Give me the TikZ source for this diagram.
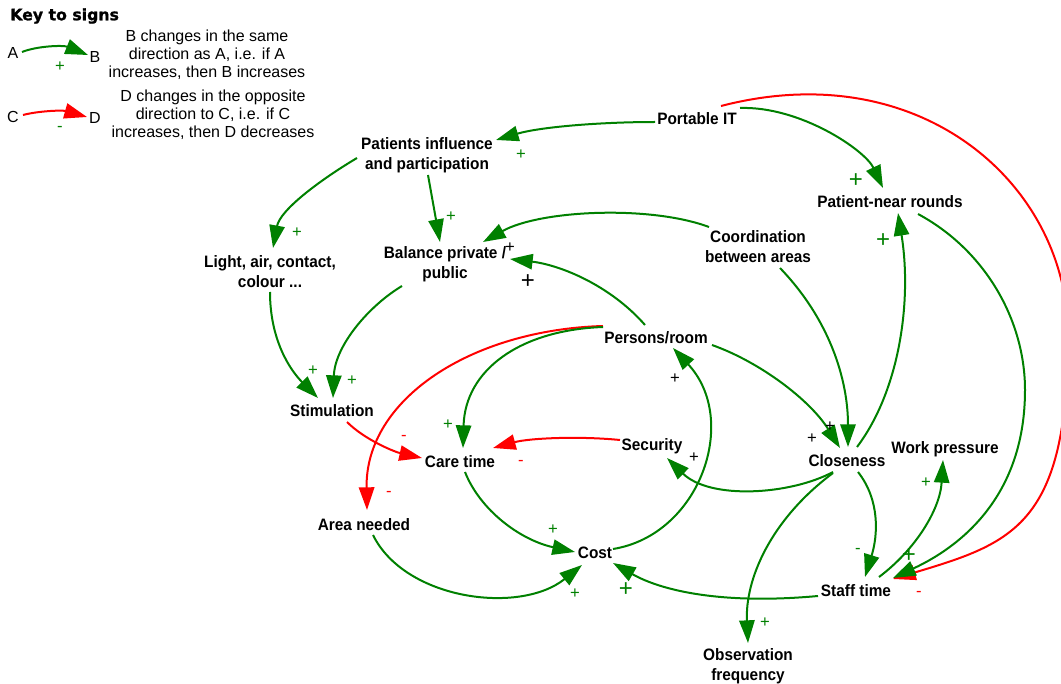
\documentclass[tikz,border=0pt]{standalone}
\usepackage{fontspec}
\setmainfont{Liberation Sans}
\newfontfamily\varfont[FakeStretch=0.93]{Liberation Sans}
\newfontfamily\keyfont[BoldFeatures={FakeBold=1.2}]{DejaVu Sans}
\usetikzlibrary{arrows.meta,calc}

\definecolor{posgreen}{RGB}{0,128,0}
\definecolor{negred}{RGB}{255,0,0}

\tikzset{
  var/.style={font=\varfont\bfseries\fontsize{12.4}{15}\selectfont, align=center, inner sep=0pt},
  keytxt/.style={font=\fontsize{12}{13.5}\selectfont, align=center, inner sep=0pt},
  link/.style={line width=1.5pt, -{Triangle[length=17pt,width=11.5pt]}},
  pluslink/.style={link, posgreen},
  minuslink/.style={link, negred},
  sgn/.style={inner sep=0pt, font=\fontsize{12.5}{12.5}\selectfont},
  bigsgn/.style={inner sep=0pt, font=\fontsize{18}{18}\selectfont},
}

\begin{document}
\begin{tikzpicture}[x=0.75pt, y=-0.75pt]
\useasboundingbox (0,0) rectangle (1061,684);
\clip (0,0) rectangle (1061,684);

% ---------- key ----------
\node[font=\keyfont\bfseries\fontsize{11.8}{12}\selectfont, anchor=west, inner sep=0pt] (keytitle) at (10,16) {Key to signs};
\node[keytxt] (ka) at (13,53) {A};
\node[keytxt] (kb) at (95,57) {B};
\node[keytxt] (kc) at (13,117) {C};
\node[keytxt] (kd) at (95,118) {D};
\node[keytxt] (kpos) at (207,55) {B changes in the same\\direction as A, i.e. if A\\increases, then B increases};
\node[keytxt] (kneg) at (213,115) {D changes in the opposite\\direction to C, i.e. if C\\increases, then D decreases};
\draw[pluslink] ($(ka)+(9,-1)$) .. controls +(15,-6) and +(-25,-10) .. ($(kb)+(-7,-2)$);
\draw[minuslink] ($(kc)+(10,-2)$) .. controls +(15,-4) and +(-25,-7) .. ($(kd)+(-8,-1)$);
\node[sgn, posgreen] (kps) at (60,67) {+};
\node[sgn, posgreen] (kms) at (60,129) {-};

% ---------- variables ----------
\node[var] (pit) at (697,119) {Portable IT};
\node[var] (pat) at (427,155) {Patients influence\\and participation};
\node[var] (rounds) at (890,202) {Patient-near rounds};
\node[var] (coord) at (758,247) {Coordination\\between areas};
\node[var] (bal) at (445,264) {Balance private /\\public};
\node[var] (light) at (270,272) {Light, air, contact,\\colour ...};
\node[var] (pers) at (656,338) {Persons/room};
\node[var] (stim) at (332,411) {Stimulation};
\node[var] (care) at (460,462) {Care time};
\node[var] (sec) at (652,446) {Security};
\node[var] (close) at (847,461) {Closeness};
\node[var] (work) at (945,449) {Work pressure};
\node[var] (area) at (364,525) {Area needed};
\node[var] (cost) at (595,553) {Cost};
\node[var] (staff) at (856,591) {Staff time};
\node[var] (obs) at (748,666) {Observation\\frequency};

% ---------- causal links ----------
% negative: portable IT reduces staff time (drawn first, under the green head)
\draw[minuslink] ($(pit)+(24,-13)$) .. controls +(200,-52) and +(0,-150) .. (1068,335)
  .. controls +(0,190) and +(120,-36) .. ($(staff)+(37,-12)$);

\draw[pluslink] ($(pit)+(-42,3)$) .. controls +(-55,0) and +(44,-13) .. ($(pat)+(69,-15)$);
\draw[pluslink] ($(pit)+(43,-11)$) .. controls +(60,-2) and +(-18,-38) .. ($(rounds)+(-7,-14)$);
\draw[pluslink] ($(pat)+(-70,3)$) .. controls +(-37,22) and +(7,-38) .. ($(light)+(3,-24)$);
\draw[pluslink] ($(pat)+(1,20)$) -- ($(bal)+(-5,-22)$);
\draw[pluslink] ($(coord)+(-49,-20)$) .. controls +(-59,-22) and +(57,-32) .. ($(bal)+(38,-22)$);
\draw[pluslink] ($(pers)+(-11,-13)$) .. controls +(-35,-40) and +(50,6) .. ($(bal)+(65,-5)$);
\draw[pluslink] ($(bal)+(-43,22)$) .. controls +(-32,19) and +(2,-53) .. ($(stim)+(1,-13)$);
\draw[pluslink] ($(light)+(0,20)$) .. controls +(0,48) and +(-28,-28) .. ($(stim)+(-14,-13)$);
\draw[minuslink] ($(stim)+(15,11)$) .. controls +(18,18) and +(-27,-6) .. ($(care)+(-38,-4)$);
\draw[minuslink] ($(pers)+(-53,-12)$) .. controls +(-133,4) and +(-2,-110) .. ($(area)+(3,-15)$);
\draw[pluslink] ($(pers)+(-53,-11)$) .. controls +(-83,3) and +(2,-78) .. ($(care)+(3,-14)$);
\draw[minuslink] ($(sec)+(-32,-6)$) .. controls +(-40,-4) and +(37,-10) .. ($(care)+(33,-14)$);
\draw[pluslink] ($(care)+(5,10)$) .. controls +(15,38) and +(-55,-12) .. ($(cost)+(-20,-1)$);
\draw[pluslink] ($(area)+(9,10)$) .. controls +(32,65) and +(-62,50) .. ($(cost)+(-13,12)$);
\draw[pluslink] ($(cost)+(18,-4)$) .. controls +(87,-14) and +(67,72) .. ($(pers)+(17,10)$);
\draw[pluslink] ($(pers)+(56,7)$) .. controls +(48,17) and +(-30,-48) .. ($(close)+(-7,-13)$);
\draw[pluslink] ($(coord)+(22,21)$) .. controls +(50,52) and +(0,-67) .. ($(close)+(1,-14)$);
\draw[pluslink] ($(close)+(10,-14)$) .. controls +(43,-57) and +(14,87) .. ($(rounds)+(8,11)$);
\draw[pluslink] ($(rounds)+(28,12)$) .. controls +(67,36) and +(0,-70) .. (1025,390)
  .. controls +(0,100) and +(75,-35) .. ($(staff)+(37,-13)$);
\draw[pluslink] ($(close)+(-14,11)$) .. controls +(-43,23) and +(43,42) .. ($(sec)+(15,12)$);
\draw[pluslink] ($(close)+(11,11)$) .. controls +(22,28) and +(13,-42) .. ($(staff)+(9,-14)$);
\draw[pluslink] ($(staff)+(23,-14)$) .. controls +(36,-27) and +(-3,50) .. ($(work)+(-2,11)$);
\draw[pluslink] ($(staff)+(-38,5)$) .. controls +(-98,9) and +(47,27) .. ($(cost)+(18,10)$);
\draw[pluslink] ($(close)+(-14,12)$) .. controls +(-63,47) and +(-3,-63) .. ($(obs)+(0,-23)$);

% ---------- polarity signs ----------
\node[sgn, posgreen] (s1) at (521,155) {+};
\node[bigsgn, posgreen] (s2) at (856,181) {+};
\node[sgn, negred] (s3) at (919,594) {-};
\node[sgn, posgreen] (s4) at (297,233) {+};
\node[sgn, posgreen] (s5) at (451,217) {+};
\node[sgn] (s6) at (510,248) {+};
\node[bigsgn] (s7) at (528,282) {+};
\node[sgn, posgreen] (s8) at (352,381) {+};
\node[sgn, posgreen] (s9) at (313,371) {+};
\node[sgn, negred] (s10) at (404,438) {-};
\node[sgn, posgreen] (s11) at (448,425) {+};
\node[sgn, negred] (s12) at (389,494) {-};
\node[sgn, negred] (s13) at (521,463) {-};
\node[sgn, posgreen] (s14) at (553,530) {+};
\node[sgn, posgreen] (s15) at (575,594) {+};
\node[sgn] (s16) at (675,379) {+};
\node[sgn] (s17) at (830,427) {+};
\node[sgn] (s18) at (812,439) {+};
\node[sgn] (s19) at (694,458) {+};
\node[bigsgn, posgreen] (s20) at (883,241) {+};
\node[sgn, posgreen] (s21) at (858,551) {-};
\node[bigsgn, posgreen] (s22) at (909,556) {+};
\node[sgn, posgreen] (s23) at (926,483) {+};
\node[bigsgn, posgreen] (s24) at (626,590) {+};
\node[sgn, posgreen] (s25) at (765,623) {+};
\end{tikzpicture}
\end{document}
